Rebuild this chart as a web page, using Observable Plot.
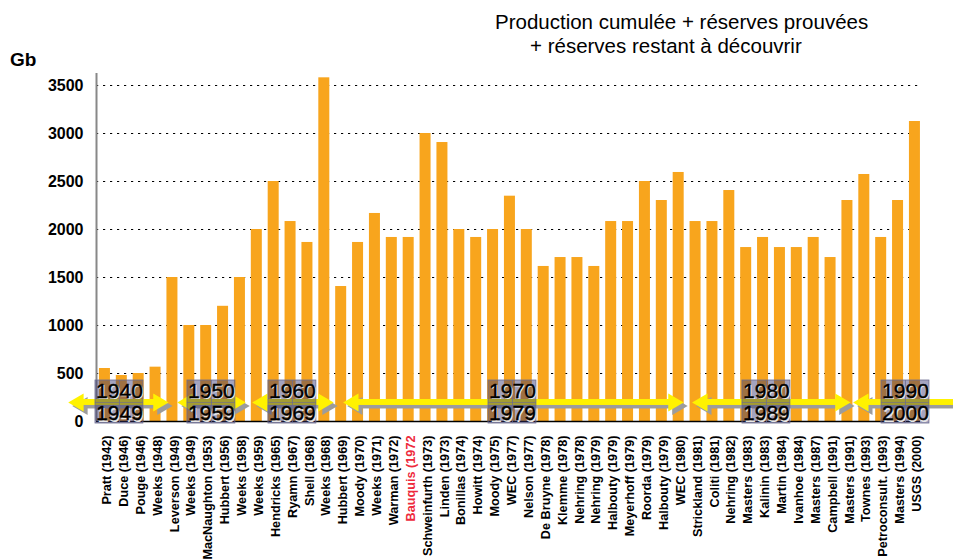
<!DOCTYPE html>
<html>
<head>
<meta charset="utf-8">
<script src="https://cdn.jsdelivr.net/npm/d3@7"></script>
<script src="https://cdn.jsdelivr.net/npm/@observablehq/plot@0.6"></script>
<style>
  html, body { margin: 0; padding: 0; background: #fff; }
  body { width: 953px; height: 560px; overflow: hidden; font-family: "Liberation Sans", Arial, sans-serif; }
  #head { position: relative; height: 60px; }
  #head .t { position: absolute; font-size: 20.5px; color: #000; white-space: nowrap; line-height: 1; }
  #gb { position: absolute; left: 10px; top: 50px; font-size: 19px; font-weight: bold; line-height: 1; }
  #chart svg { display: block; }
</style>
</head>
<body>
<div id="head">
  <div class="t" style="left:495px; top:12px;">Production cumulée + réserves prouvées</div>
  <div class="t" style="left:530px; top:36px;">+ réserves restant à découvrir</div>
  <div id="gb">Gb</div>
</div>
<div id="chart"></div>
<script>
// ---- data ----
const names = [
  "Pratt (1942)", "Duce (1946)", "Pouge (1946)", "Weeks (1948)", "Leverson (1949)",
  "Weeks (1949)", "MacNaughton (1953)", "Hubbert (1956)", "Weeks (1958)", "Weeks (1959)",
  "Hendricks (1965)", "Ryamn (1967)", "Shell (1968)", "Weeks (1968)", "Hubbert (1969)",
  "Moody (1970)", "Weeks (1971)", "Warman (1972)", "Bauquis (1972", "Schweinfurth (1973)",
  "Linden (1973)", "Bonillas (1974)", "Howitt (1974)", "Moody (1975)", "WEC (1977)",
  "Nelson (1977)", "De Bruyne (1978)", "Klemme (1978)", "Nehring (1978)", "Nehring (1979)",
  "Halbouty (1979)", "Meyerhoff (1979)", "Roorda (1979)", "Halbouty (1979)", "WEC (1980)",
  "Strickland (1981)", "Coliti (1981)", "Nehring (1982)", "Masters (1983)", "Kalinin (1983)",
  "Martin (1984)", "Ivanhoe (1984)", "Masters (1987)", "Campbell (1991)", "Masters (1991)",
  "Townes (1993)", "Petroconsult. (1993)", "Masters (1994)", "USGS (2000)"
];
const values = [
  552, 479, 500, 566, 1500, 1000, 1000, 1200, 1500, 2000,
  2500, 2083, 1865, 3580, 1406, 1865, 2167, 1917, 1917, 3000,
  2906, 2000, 1917, 2000, 2347, 2000, 1615, 1708, 1708, 1615,
  2083, 2083, 2500, 2302, 2594, 2083, 2083, 2406, 1812, 1917,
  1812, 1812, 1917, 1708, 2302, 2573, 1917, 2302, 3125
];
const highlighted = "Bauquis (1972";
const yTicks = [0, 500, 1000, 1500, 2000, 2500, 3000, 3500];

// decade annotations (positions in bar-index units)
const decadeFrom = ["1940", "1950", "1960", "1970", "1980", "1990"];
const decadeTo   = ["1949", "1959", "1969", "1979", "1989", "2000"];
const decadeBoxCenter = [0.86, 6.31, 11.11, 24.15, 39.20, 47.44];
const arrowStart = [-2.16, 4.30, 8.74, 14.13, 34.81, 44.35];
const arrowEnd   = [3.76, 8.33, 13.54, 34.28, 44.17, 51.5];
const arrowLevel = 198;      // Gb, vertical position of the arrows
const boxBottom = -21, boxTop = 427, upperLabelY = 314, lowerLabelY = 82;

// ---- build tables ----
const bars = names.map((name, i) => ({i, name, value: values[i]}));
const decades = decadeFrom.map((from, k) => ({
  from, to: decadeTo[k], c: decadeBoxCenter[k], a0: arrowStart[k], a1: arrowEnd[k]
}));

const half = 0.326, boxHalf = 1.42;
const orange = "#F8A51D";
const yellow = "#FFF200";
const shadow = "#9c9c9c";

const chart = Plot.plot({
  width: 953,
  height: 500,
  marginLeft: 96,
  marginRight: 33,
  marginTop: 13,
  marginBottom: 139,
  x: {type: "linear", domain: [-0.5, 48.33], axis: null},
  y: {domain: [0, 3625], axis: null},
  style: {fontFamily: "Liberation Sans, Arial, sans-serif", background: "white"},
  marks: [
    // dotted gridlines
    Plot.ruleY(yTicks.filter(d => d > 0), {stroke: "#000", strokeWidth: 1.2, strokeDasharray: "2.2,4.8"}),
    // y axis labels
    Plot.axisY(yTicks, {tickSize: 0, tickPadding: 13, fontSize: 16, fontWeight: "bold", fill: "#000",
      label: null, tickFormat: d => String(d)}),
    // bars
    Plot.rectY(bars, {x1: d => d.i - half, x2: d => d.i + half, y: "value", fill: orange}),
    // left y axis line
    Plot.ruleX([-0.5], {stroke: "#888", strokeWidth: 2}),
    // baseline
    Plot.ruleY([0], {stroke: "#000", strokeWidth: 1.5}),
    // category labels
    Plot.text(bars, {
      x: "i", y: 0, text: "name", rotate: -90, textAnchor: "end", dy: 14, dx: 2,
      fontSize: 12.7, fontWeight: "bold",
      fill: d => d.name === highlighted ? "#ee2a3c" : "#000"
    }),
    // arrow shadows
    Plot.rect(decades, {x1: "a0", x2: "a1", y1: arrowLevel - 31, y2: arrowLevel + 31,
      insetLeft: 10, insetRight: 10, fill: shadow, dx: 4, dy: 3.5}),
    Plot.dot(decades, {x: "a0", y: arrowLevel, symbol: "triangle", r: 6.6, rotate: -90, dx: 10 + 4, dy: 3.5, fill: shadow}),
    Plot.dot(decades, {x: "a1", y: arrowLevel, symbol: "triangle", r: 6.6, rotate: 90, dx: -10 + 4, dy: 3.5, fill: shadow}),
    // arrows
    Plot.rect(decades, {x1: "a0", x2: "a1", y1: arrowLevel - 31, y2: arrowLevel + 31,
      insetLeft: 10, insetRight: 10, fill: yellow}),
    Plot.dot(decades, {x: "a0", y: arrowLevel, symbol: "triangle", r: 6.6, rotate: -90, dx: 10, fill: yellow}),
    Plot.dot(decades, {x: "a1", y: arrowLevel, symbol: "triangle", r: 6.6, rotate: 90, dx: -10, fill: yellow}),
    // decade boxes
    Plot.rect(decades, {x1: d => d.c - boxHalf, x2: d => d.c + boxHalf, y1: boxBottom, y2: boxTop,
      fill: "#343470", fillOpacity: 0.45, stroke: "#6c6c90", strokeWidth: 0.8}),
    Plot.ruleX(decades, {x: "c", y1: boxBottom, y2: boxTop, stroke: "#6c6c90", strokeWidth: 0.8}),
    Plot.ruleY(decades, {y: arrowLevel, x1: d => d.c - boxHalf, x2: d => d.c + boxHalf, stroke: "#6c6c90", strokeWidth: 0.6}),
    // decade labels (light shadow, then text)
    Plot.text(decades, {x: "c", y: upperLabelY, text: "from", fontSize: 21, fill: "#e8e8e8", dx: 1.2, dy: 1.2}),
    Plot.text(decades, {x: "c", y: lowerLabelY, text: "to", fontSize: 21, fill: "#e8e8e8", dx: 1.2, dy: 1.2}),
    Plot.text(decades, {x: "c", y: upperLabelY, text: "from", fontSize: 21, fill: "#000", stroke: "#000", strokeWidth: 0.4}),
    Plot.text(decades, {x: "c", y: lowerLabelY, text: "to", fontSize: 21, fill: "#000", stroke: "#000", strokeWidth: 0.4})
  ]
});
document.getElementById("chart").appendChild(chart);
</script>
</body>
</html>
